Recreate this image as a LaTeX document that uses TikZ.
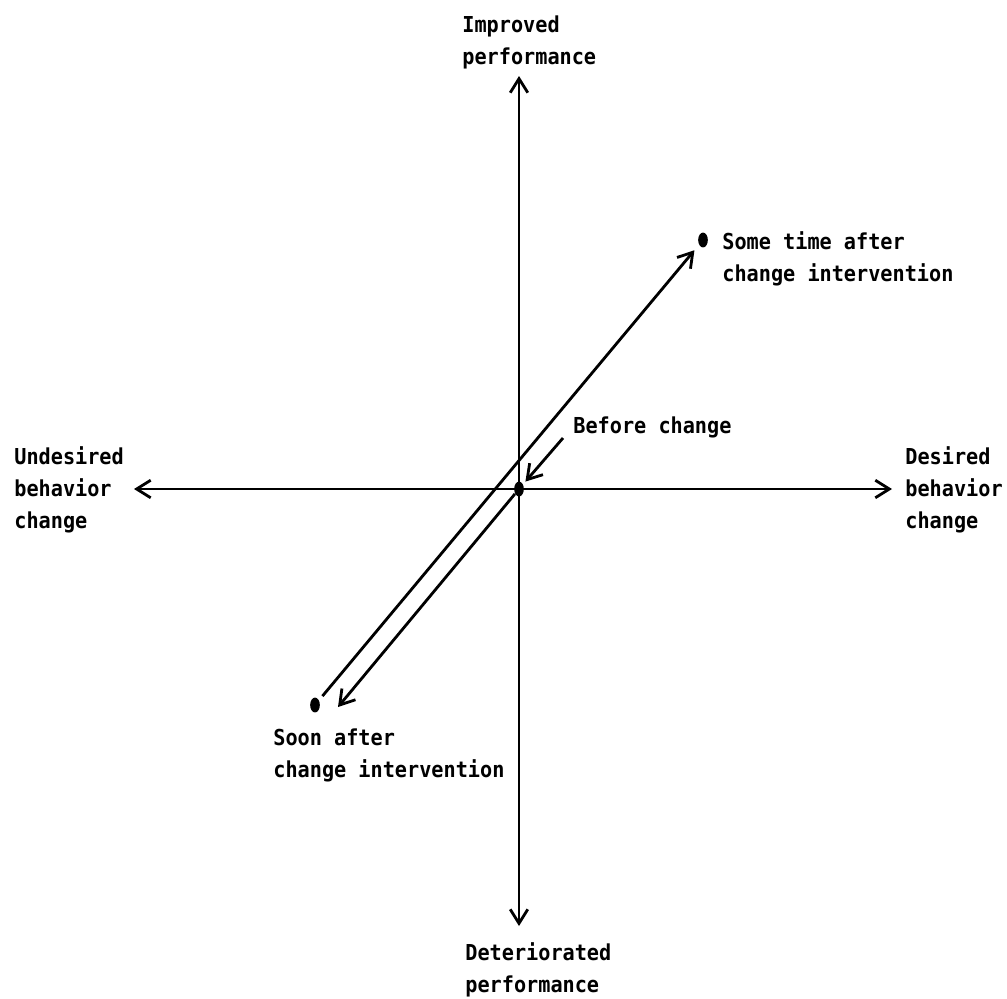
\documentclass[tikz,border=0pt]{standalone}
\usepackage{fontspec}
\setmonofont{DejaVu Sans Mono}[FakeStretch=0.92]
\usetikzlibrary{arrows.meta,shapes.geometric}
\begin{document}
\begin{tikzpicture}[
    x=0.02cm, y=-0.02cm,
    lbl/.style={align=left, inner sep=0pt, anchor=north west, font=\ttfamily\bfseries\fontsize{12.5}{18.2}\selectfont},
    dot/.style={ellipse, fill, inner sep=0pt, minimum width=5.5pt, minimum height=8.5pt},
    arrow/.style={-{Straight Barb[length=8pt,width=10pt]}, line width=1.6pt},
    axis/.style={{Straight Barb[length=8pt,width=10pt]}-{Straight Barb[length=8pt,width=10pt]}, line width=1.6pt}
]
\useasboundingbox (0,0) rectangle (1007,998);
% states
\node[dot] (before) at (519,489) {};
\node[dot] (later)  at (703,240) {};
\node[dot] (soon)   at (315,705) {};
% axis ends
\coordinate (top)    at (519,76);
\coordinate (bottom) at (519,926);
\coordinate (left)   at (134,489);
\coordinate (right)  at (892,489);
\coordinate (lowtip) at (338,707);
\coordinate (btail)  at (563,438);
% labels
\node[lbl] (improved)  at (462,15)  {Improved\\performance};
\node[lbl] (worse)     at (465,942) {Deteriorated\\performance};
\node[lbl] (undesired) at (14,446)  {Undesired\\behavior\\change};
\node[lbl] (desired)   at (905,446) {Desired\\behavior\\change};
\node[lbl] (latertext) at (722,231) {Some time after\\change intervention};
\node[lbl] (soontext)  at (273,728) {Soon after\\change intervention};
\node[lbl] (beforetext) at (573,416) {Before change};
% axes
\draw[axis] (top) -- (bottom);
\draw[axis] (left) -- (right);
% movements
\draw[arrow] (before) -- (lowtip);
\draw[arrow, shorten <=3pt, shorten >=4pt] (soon) -- (later);
\draw[arrow, shorten >=2pt] (btail) -- (before);
\end{tikzpicture}
\end{document}
